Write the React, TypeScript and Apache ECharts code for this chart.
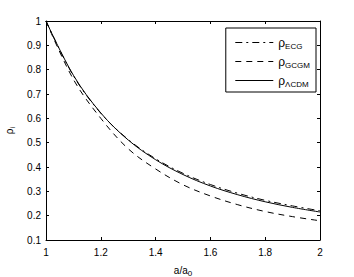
import React, { useEffect, useRef } from "react";
import * as echarts from "echarts";

const aValues = [1, 1.1, 1.2, 1.3, 1.4, 1.5, 1.6, 1.7, 1.8, 1.9, 2];
const rhoECG = [1, 0.775, 0.621, 0.513, 0.434, 0.374, 0.328, 0.292, 0.263, 0.24, 0.22];
const rhoGCGM = [1, 0.76, 0.6, 0.475, 0.392, 0.327, 0.281, 0.245, 0.217, 0.196, 0.179];
const rhoLCDM = [1, 0.777, 0.622, 0.511, 0.43, 0.369, 0.322, 0.286, 0.257, 0.234, 0.215];
const seriesNames = ["ECG", "GCGM", "ΛCDM"];
const xTicks = [1, 1.2, 1.4, 1.6, 1.8, 2];
const yTicks = [0.1, 0.2, 0.3, 0.4, 0.5, 0.6, 0.7, 0.8, 0.9, 1];

const FONT = "Liberation Sans";

export default function App() {
  const ref = useRef<HTMLDivElement>(null);
  useEffect(() => {
    if (!ref.current) return;
    const chart = echarts.init(ref.current, null, { renderer: "svg" });
    const pairs = (ys: number[]) => aValues.map((a, i) => [a, ys[i]]);
    const axisCommon = {
      type: "value" as const,
      axisLine: { show: true, lineStyle: { color: "#000", width: 1 } },
      axisTick: { show: true, inside: true, length: 3, lineStyle: { color: "#000" } },
      splitLine: { show: false },
    };
    const fmt = (v: number) => String(+v.toFixed(1));
    const labelStyle = { color: "#000", fontSize: 10, fontFamily: FONT };
    const lineTypes: any[] = [[7, 4, 2, 4], [6, 5], "solid"];
    const dataSets = [rhoECG, rhoGCGM, rhoLCDM];
    chart.setOption({
      animation: false,
      backgroundColor: "#fff",
      grid: { left: 46, top: 21, width: 274, height: 219, show: false, containLabel: false, outerBoundsMode: "none" },
      xAxis: [
        {
          ...axisCommon,
          min: xTicks[0],
          max: xTicks[xTicks.length - 1],
          interval: 0.2,
          position: "bottom",
          axisLabel: { ...labelStyle, margin: 7, formatter: fmt },
          name: "{a|a/a}{s|0}",
          nameLocation: "middle",
          nameGap: 23,
          nameTextStyle: {
            rich: {
              a: { fontSize: 10, fontFamily: FONT, color: "#000", lineHeight: 14 },
              s: { fontSize: 8, fontFamily: FONT, color: "#000", lineHeight: 14, padding: [7, 0, 0, 0] },
            },
          },
        },
        {
          ...axisCommon,
          min: xTicks[0],
          max: xTicks[xTicks.length - 1],
          interval: 0.2,
          position: "top",
          axisLabel: { show: false },
        },
      ],
      yAxis: [
        {
          ...axisCommon,
          min: yTicks[0],
          max: yTicks[yTicks.length - 1],
          interval: 0.1,
          position: "left",
          axisLabel: { ...labelStyle, margin: 5, formatter: fmt },
          name: "{a|ρ}{s|i}",
          nameLocation: "middle",
          nameGap: 29,
          nameTextStyle: {
            rich: {
              a: { fontSize: 10, fontFamily: FONT, color: "#000", lineHeight: 14 },
              s: { fontSize: 7, fontFamily: FONT, color: "#000", lineHeight: 14, padding: [7, 0, 0, 0] },
            },
          },
        },
        {
          ...axisCommon,
          min: yTicks[0],
          max: yTicks[yTicks.length - 1],
          interval: 0.1,
          position: "right",
          axisLabel: { show: false },
        },
      ],
      legend: {
        right: 354 - 316,
        top: 28,
        orient: "vertical",
        backgroundColor: "#fff",
        borderColor: "#000",
        borderWidth: 1,
        borderRadius: 0,
        padding: [7, 6, 4, 9],
        itemGap: 4,
        itemWidth: 38,
        itemHeight: 14,
        itemStyle: { opacity: 0 },
        lineStyle: { width: 1 },
        data: seriesNames.map((n) => ({ name: n })),
        formatter: (name: string) => `{r|ρ}{s|${name}}`,
        textStyle: {
          rich: {
            r: { fontSize: 12, fontFamily: FONT, color: "#000", lineHeight: 15 },
            s: { fontSize: 8, fontFamily: FONT, color: "#000", lineHeight: 15, padding: [7, 0, 0, 0] },
          },
        },
      },
      series: seriesNames.map((n, i) => ({
        name: n,
        type: "line",
        data: pairs(dataSets[i]),
        smooth: 0.35,
        showSymbol: false,
        symbol: "none",
        lineStyle: { color: "#000", width: 1, type: lineTypes[i] },
        itemStyle: { color: "#000" },
        xAxisIndex: 0,
        yAxisIndex: 0,
        z: 3 - i,
      })),
    });
    return () => chart.dispose();
  }, []);
  return (
    <div
      ref={ref}
      style={{ position: "fixed", left: 0, top: 0, width: 354, height: 277, background: "#fff" }}
    />
  );
}
